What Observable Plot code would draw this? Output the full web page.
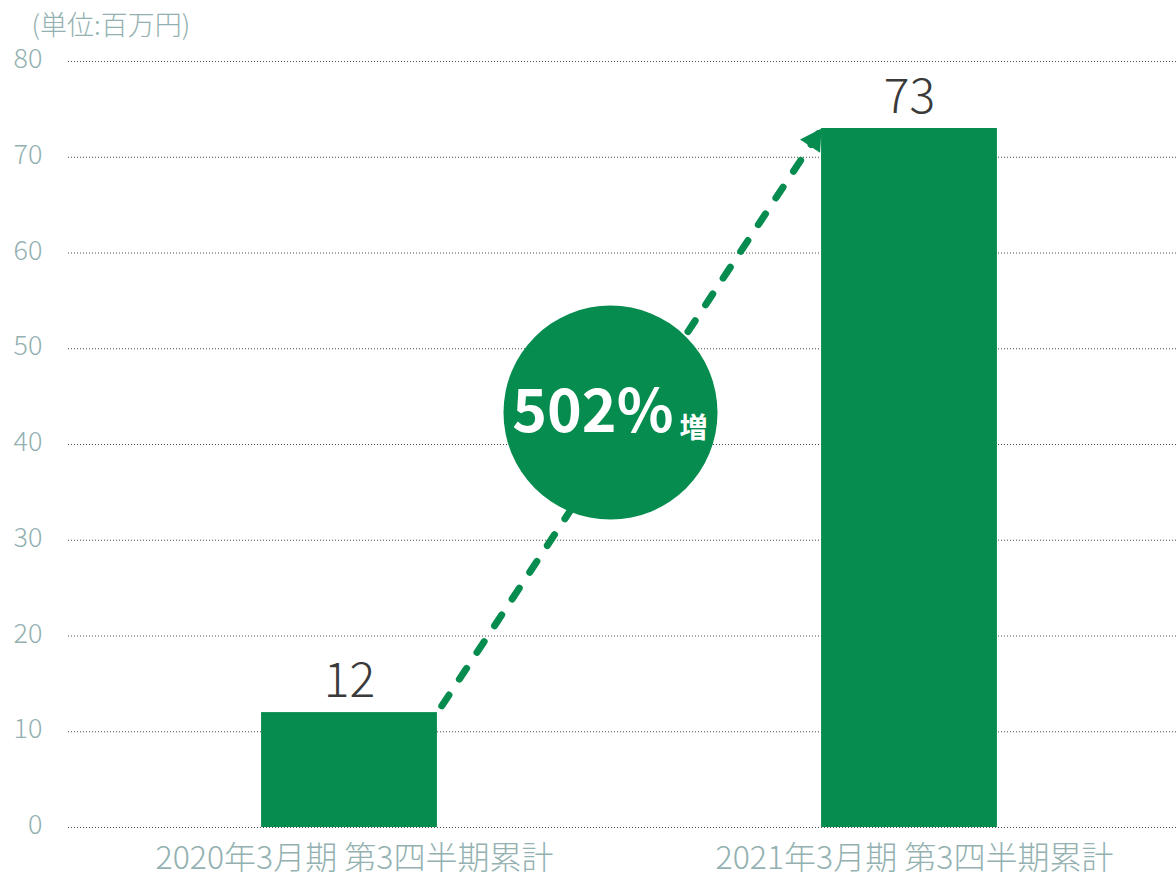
<!DOCTYPE html>
<html>
<head>
<meta charset="utf-8">
<script src="https://cdn.jsdelivr.net/npm/d3@7"></script>
<script src="https://cdn.jsdelivr.net/npm/@observablehq/plot@0.6"></script>
<style>
  html, body { margin: 0; padding: 0; background: #fff; }
  #chart { width: 1176px; height: 877px; overflow: hidden; }
</style>
</head>
<body>
<div id="chart"></div>
<script>
// ---- data ----
const categories = ["2020年3月期 第3四半期累計", "2021年3月期 第3四半期累計"];
const values = [12, 73];
const yTicks = [0, 10, 20, 30, 40, 50, 60, 70, 80];
const unitLabel = "(単位:百万円)";
const growthValue = "502%";
const growthSuffix = "増";

// ---- styles ----
const green = "#058c4e";
const axisColor = "#93b1b1";
const labelColor = "#3a3a3a";
const font = "'Noto Sans CJK JP', 'Noto Sans', sans-serif";
const halfBar = 0.157; // half bar width in category units

const data = categories.map((c, i) => ({ i, category: c, value: values[i] }));
const barLeft = (d) => d.i + 0.5 - halfBar;
const barRight = (d) => d.i + 0.5 + halfBar;

const arrow = [{
  x1: barRight(data[0]), y1: data[0].value,
  x2: barLeft(data[1]), y2: data[1].value
}];
const mid = [{
  x: (arrow[0].x1 + arrow[0].x2) / 2,
  y: (arrow[0].y1 + arrow[0].y2) / 2
}];

const headMarker = (color, context) => {
  const doc = (context && context.document) || document;
  const ns = "http://www.w3.org/2000/svg";
  const m = doc.createElementNS(ns, "marker");
  m.setAttribute("viewBox", "-23 -13 24 26");
  m.setAttribute("markerWidth", "24");
  m.setAttribute("markerHeight", "26");
  m.setAttribute("markerUnits", "userSpaceOnUse");
  m.setAttribute("refX", "0");
  m.setAttribute("refY", "0");
  m.setAttribute("orient", "auto");
  const p = doc.createElementNS(ns, "path");
  p.setAttribute("d", "M0,0L-21,-12L-21,12Z");
  p.setAttribute("fill", color);
  p.setAttribute("stroke", "none");
  m.appendChild(p);
  return m;
};

const chart = Plot.plot({
  width: 1176,
  height: 877,
  marginTop: 61,
  marginBottom: 50,
  marginLeft: 68,
  marginRight: 0,
  style: { fontFamily: font, background: "#fff" },
  x: { type: "linear", domain: [0, 2], range: [69, 1189] },
  y: { domain: [0, 80], range: [827, 61] },
  marks: [
    Plot.ruleY(yTicks, { stroke: "#4a4a4a", strokeWidth: 1, strokeDasharray: "1,2" }),
    Plot.link(arrow, {
      x1: "x1", y1: "y1", x2: "x2", y2: "y2",
      stroke: green, strokeWidth: 7, strokeLinecap: "round",
      strokeDasharray: "13,19", strokeDashoffset: 24,
      markerEnd: headMarker
    }),
    Plot.dot(mid, { x: "x", y: "y", r: 107, fill: green, stroke: "none", dx: -19, dy: -8 }),
    Plot.text(mid, {
      x: "x", y: "y", text: () => growthValue, textAnchor: "end",
      dx: 44, dy: -7, fontSize: 59, fontWeight: "bold", fill: "#fff", fontFamily: font
    }),
    Plot.text(mid, {
      x: "x", y: "y", text: () => growthSuffix, textAnchor: "start",
      dx: 50, dy: 8, fontSize: 28, fontWeight: "bold", fill: "#fff", fontFamily: font
    }),
    Plot.rectY(data, { x1: barLeft, x2: barRight, y1: 0, y2: "value", fill: green }),
    Plot.text(data, {
      x: (d) => d.i + 0.5, y: "value", text: (d) => String(d.value),
      dy: -31, fontSize: 48, fontWeight: 300, fill: labelColor, fontFamily: font
    }),
    Plot.text([unitLabel], {
      frameAnchor: "top-left", text: (d) => d, textAnchor: "start",
      dx: -37, dy: -46, fontSize: 27, fill: axisColor, fontWeight: 300, fontFamily: font
    }),
    Plot.axisY({
      ticks: yTicks, tickSize: 0, tickPadding: 26, fontSize: 27, fill: axisColor,
      fontWeight: 300, dy: -2, label: null, fontFamily: font
    }),
    Plot.axisX({
      ticks: data.map((d) => d.i + 0.5), tickFormat: (v) => categories[Math.floor(v)],
      tickSize: 0, tickPadding: 19, fontSize: 32, fill: axisColor, fontWeight: 300,
      dx: 5, label: null, fontFamily: font
    })
  ]
});

document.getElementById("chart").appendChild(chart);
</script>
</body>
</html>
